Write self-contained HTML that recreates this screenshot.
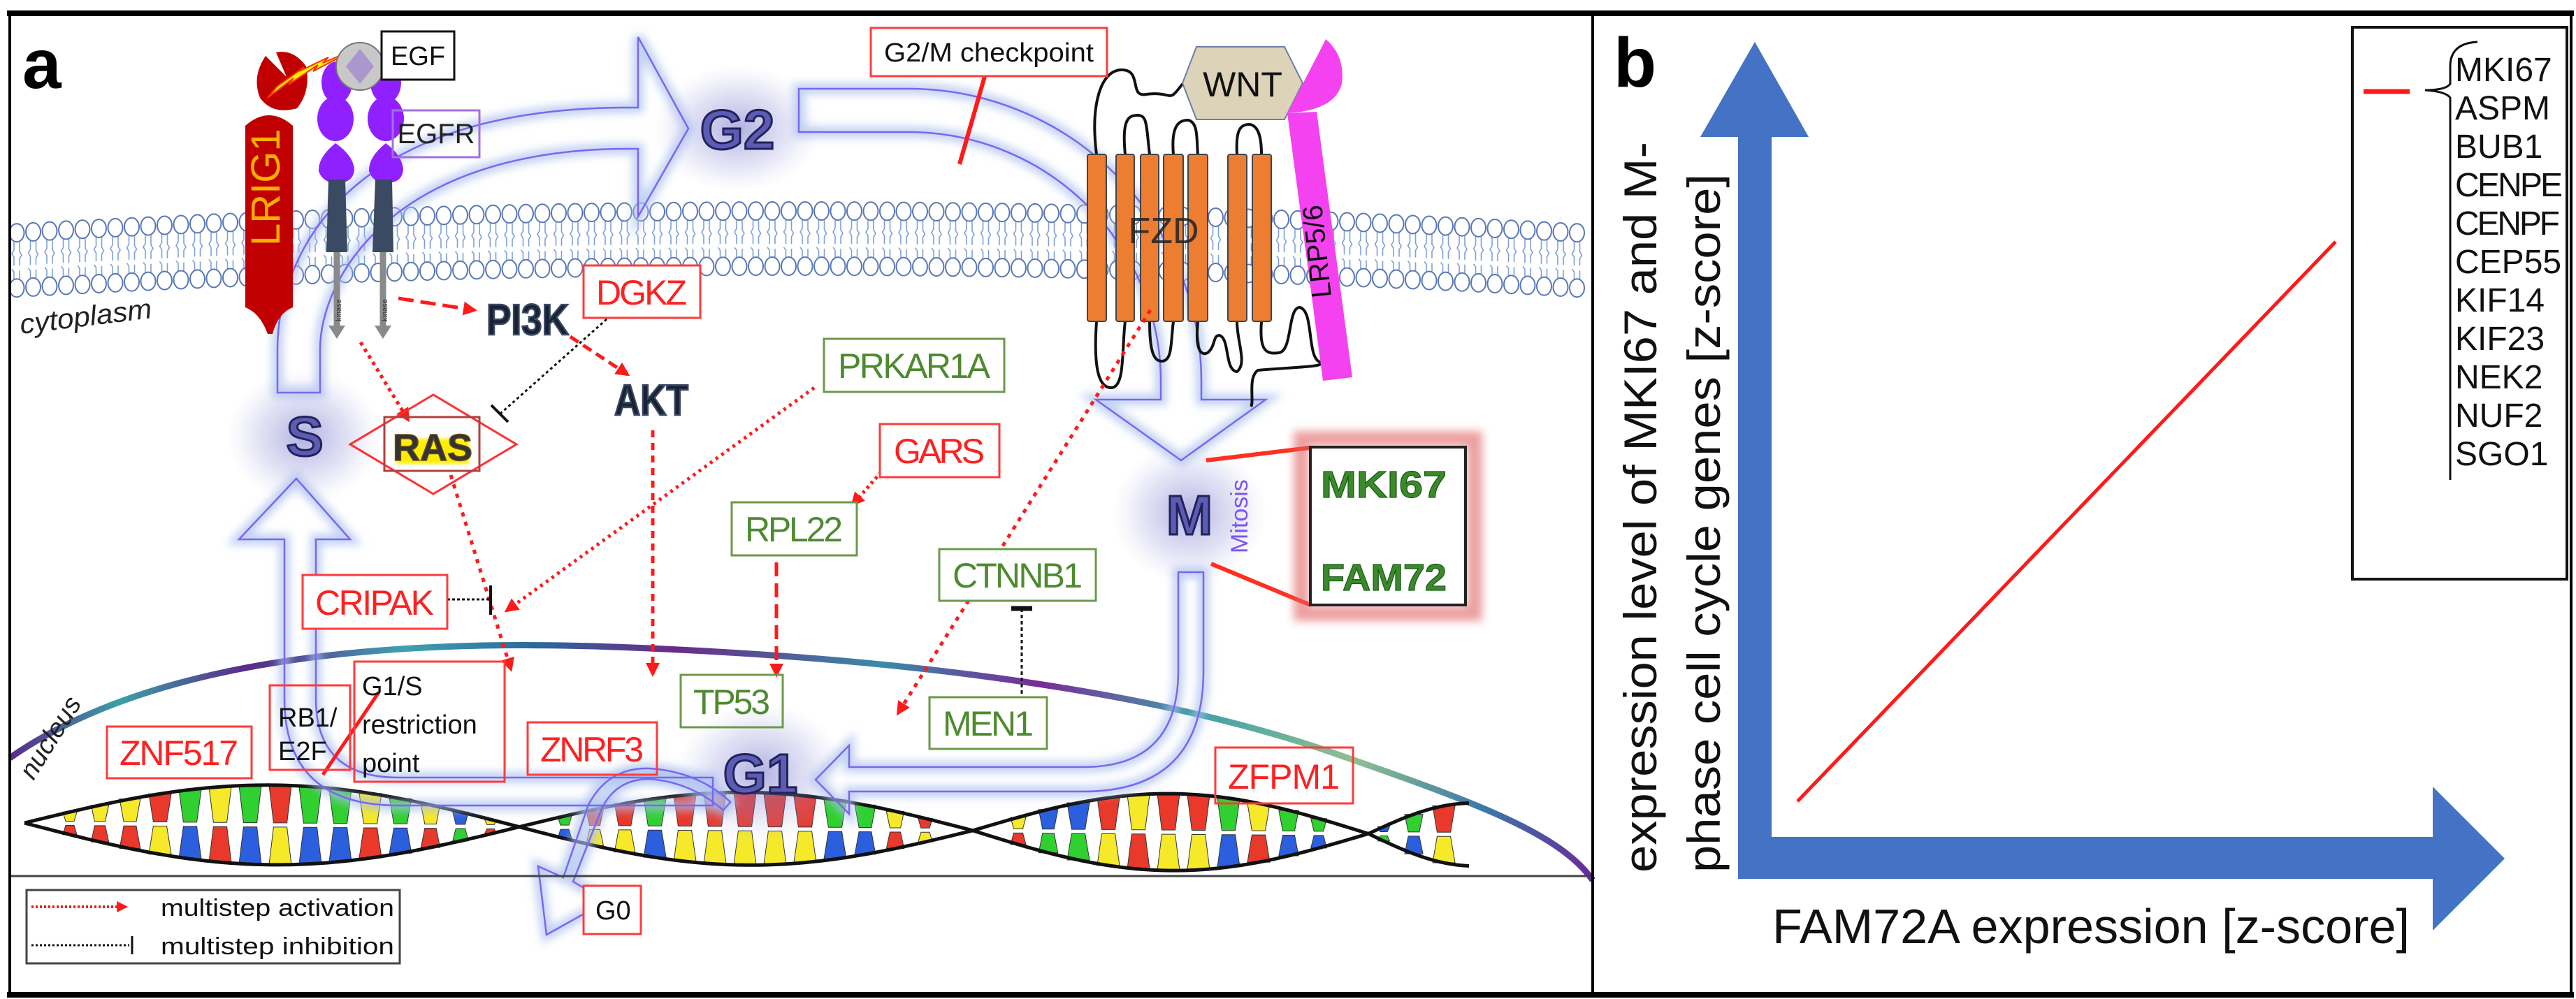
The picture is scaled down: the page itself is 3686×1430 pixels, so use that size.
<!DOCTYPE html>
<html><head><meta charset="utf-8">
<style>
html,body{margin:0;padding:0;background:#fff;}
svg{display:block;}
text{font-family:"Liberation Sans",sans-serif;}
</style></head>
<body>
<svg id="s" width="3686" height="1430" viewBox="0 0 3686 1430" xmlns="http://www.w3.org/2000/svg">
<defs>
<marker id="ar" viewBox="0 0 10 10" refX="8" refY="5" markerWidth="4" markerHeight="4" orient="auto"><path d="M0,0L10,5L0,10z" fill="#ff1a1a"/></marker>
<radialGradient id="glow"><stop offset="0" stop-color="#7070c8" stop-opacity="0.55"/><stop offset="0.6" stop-color="#9090d8" stop-opacity="0.25"/><stop offset="1" stop-color="#b0b0e8" stop-opacity="0"/></radialGradient>
<linearGradient id="nuc" x1="0" y1="0" x2="1" y2="0">
<stop offset="0" stop-color="#5a2a8a"/><stop offset="0.07" stop-color="#3aa0a8"/><stop offset="0.15" stop-color="#5a2a8a"/><stop offset="0.25" stop-color="#40a0b0"/><stop offset="0.33" stop-color="#2a6a9a"/><stop offset="0.42" stop-color="#6a2a8a"/><stop offset="0.55" stop-color="#3a8aa8"/><stop offset="0.65" stop-color="#7a2a9a"/><stop offset="0.75" stop-color="#40a0a8"/><stop offset="0.85" stop-color="#90c090"/><stop offset="0.93" stop-color="#3a7aa8"/><stop offset="1" stop-color="#6a2a9a"/></linearGradient>
<filter id="bl" x="-20%" y="-20%" width="140%" height="140%"><feGaussianBlur stdDeviation="6"/></filter>
<filter id="bl3"><feGaussianBlur stdDeviation="2"/></filter>
</defs>
<rect width="3686" height="1430" fill="#fff"/>

<g id="mem"></g>

<path d="M14,1085 C200,955 500,915 850,925 C1300,940 1650,990 1900,1075 C2100,1145 2230,1190 2279,1260" fill="none" stroke="url(#nuc)" stroke-width="9"/>

<g id="dna"></g>

<ellipse cx="435" cy="625" rx="110" ry="95" fill="url(#glow)"/>
<ellipse cx="1055" cy="184" rx="120" ry="90" fill="url(#glow)"/>
<ellipse cx="1702" cy="735" rx="110" ry="100" fill="url(#glow)"/>
<ellipse cx="1088" cy="1106" rx="120" ry="100" fill="url(#glow)"/>

<g fill="none" stroke="#a8bfee" stroke-width="16" stroke-opacity="0.7" filter="url(#bl)">
<path d="M397,562 L397,500 C397,380 480,154 900,154 L913,154 L913,53 L985,184 L913,310 L913,213 L900,213 C560,213 458,400 458,500 L458,562 Z"/>
<path d="M1143,127 L1300,127 A419,419 0 0 1 1719,546 L1719,572 L1811,572 L1690,659 L1568,572 L1661,572 L1661,546 A361,357 0 0 0 1300,189 L1143,189 Z"/>
<path d="M1686,819 L1722,819 L1722,960 Q1722,1133 1550,1133 L1215,1133 L1215,1165 L1167,1116 L1215,1067 L1215,1098 L1550,1098 Q1686,1098 1686,960 Z"/>
<path d="M1020,1113 L1020,1153 L570,1153 Q407,1153 407,1000 L407,772 L342,772 L424,685 L501,772 L452,772 L452,1000 Q452,1113 570,1113 Z"/>
<path d="M1035,1160 Q990,1120 930,1115 Q880,1115 860,1160 L820,1262 L868,1290 L782,1338 L770,1240 L806,1256 L842,1152 Q870,1098 930,1100 Q1000,1105 1045,1148 Z"/>
</g>
<g fill="none" stroke="#7b66f0" stroke-width="2.5">
<path d="M397,562 L397,500 C397,380 480,154 900,154 L913,154 L913,53 L985,184 L913,310 L913,213 L900,213 C560,213 458,400 458,500 L458,562 Z"/>
<path d="M1143,127 L1300,127 A419,419 0 0 1 1719,546 L1719,572 L1811,572 L1690,659 L1568,572 L1661,572 L1661,546 A361,357 0 0 0 1300,189 L1143,189 Z"/>
<path d="M1686,819 L1722,819 L1722,960 Q1722,1133 1550,1133 L1215,1133 L1215,1165 L1167,1116 L1215,1067 L1215,1098 L1550,1098 Q1686,1098 1686,960 Z"/>
<path d="M1020,1113 L1020,1153 L570,1153 Q407,1153 407,1000 L407,772 L342,772 L424,685 L501,772 L452,772 L452,1000 Q452,1113 570,1113 Z"/>
<path d="M1035,1160 Q990,1120 930,1115 Q880,1115 860,1160 L820,1262 L868,1290 L782,1338 L770,1240 L806,1256 L842,1152 Q870,1098 930,1100 Q1000,1105 1045,1148 Z"/>
</g>

<g font-weight="bold" fill="#5c5cb4" stroke="#22225a" stroke-width="3" text-anchor="middle">
<text x="436" y="652" font-size="80">S</text>
<text x="1055" y="213" font-size="80">G2</text>
<text x="1702" y="765" font-size="80">M</text>
<text x="1088" y="1135" font-size="80">G1</text>
</g>
<text transform="translate(1785,792) rotate(-90)" font-size="34" fill="#7b55f0">Mitosis</text>

<path d="M351,180 Q385,150 419,180 L419,440 Q398,448 390,478 L383,478 Q372,448 351,440 Z" fill="#c00000"/>
<path d="M380,80 Q360,110 372,140 Q390,165 425,155 Q445,130 438,95 Q420,70 395,75 L410,110 Z" fill="#c00000"/>
<text transform="translate(400,352) rotate(-90)" font-size="58" fill="#ffb000">LRIG1</text>
<polygon points="383,140 420,112 413,121 455,93 448,102 509,70 462,90 470,82 428,102 435,96 396,124" fill="#ffee00" stroke="#ff3000" stroke-width="2"/>

<g fill="#9020ff">
<ellipse cx="482" cy="118" rx="22" ry="30"/><ellipse cx="480" cy="170" rx="26" ry="32"/><path d="M480,205 Q455,225 456,245 Q462,262 482,262 Q506,262 507,242 Q505,222 480,205Z"/>
<ellipse cx="552" cy="118" rx="22" ry="30"/><ellipse cx="552" cy="170" rx="26" ry="32"/><path d="M552,205 Q527,225 528,245 Q534,262 552,262 Q576,262 577,242 Q575,222 552,205Z"/>
</g>
<circle cx="515" cy="95" r="34" fill="#c8c8c8" stroke="#777" stroke-width="2"/>
<polygon points="515,70 535,95 515,120 495,95" fill="#a080d0" opacity="0.7"/>
<polygon points="470,257 494,257 497,361 467,361" fill="#3a4a62"/>
<polygon points="537,257 561,257 563,361 533,361" fill="#3a4a62"/>
<g stroke="#8a8a8a" stroke-width="9"><line x1="482" y1="361" x2="482" y2="470"/><line x1="548" y1="361" x2="548" y2="470"/></g>
<polygon points="470,466 494,466 482,485" fill="#8a8a8a"/><polygon points="536,466 560,466 548,485" fill="#8a8a8a"/>
<text transform="translate(488,460) rotate(-90)" font-size="11" fill="#333">kinase</text>
<text transform="translate(554,460) rotate(-90)" font-size="11" fill="#333">kinase</text>

<g fill="none" stroke="#111" stroke-width="4">
<path d="M1569,221 C1560,150 1575,100 1605,100 C1635,100 1615,140 1640,135 C1680,130 1670,150 1692,120"/>
<path d="M1610,221 C1605,170 1615,165 1628,165 C1642,165 1640,180 1645,221"/>
<path d="M1679,221 C1675,175 1690,172 1700,172 C1715,175 1712,200 1714,221"/>
<path d="M1770,221 C1768,185 1775,178 1788,178 C1802,180 1805,200 1805,221"/>
<path d="M1569,460 C1565,520 1570,555 1590,555 C1610,555 1605,500 1610,460"/>
<path d="M1645,460 C1645,500 1650,517 1662,517 C1678,517 1675,490 1679,460"/>
<path d="M1714,460 C1710,500 1718,510 1728,505 C1740,495 1735,480 1745,480 C1760,485 1752,530 1770,532 C1785,520 1770,490 1770,460"/>
<path d="M1805,460 C1802,500 1810,508 1830,505 C1850,502 1842,440 1860,440 C1880,445 1870,510 1888,518 C1900,525 1860,525 1800,530 C1785,540 1795,575 1790,582"/>
</g>
<g fill="#ed7d31" stroke="#444" stroke-width="2">
<rect x="1556" y="221" width="27" height="239" rx="3"/><rect x="1597" y="221" width="26" height="239" rx="3"/><rect x="1632" y="221" width="26" height="239" rx="3"/><rect x="1665" y="221" width="28" height="239" rx="3"/><rect x="1700" y="221" width="28" height="239" rx="3"/><rect x="1757" y="221" width="27" height="239" rx="3"/><rect x="1792" y="221" width="27" height="239" rx="3"/>
</g>
<text x="1665" y="348" font-size="52" fill="#222" text-anchor="middle" opacity="0.85">FZD</text>
<polygon points="1712,67 1838,67 1864,119 1838,171 1712,171 1692,119" fill="#dcd3b8" stroke="#6a7fa8" stroke-width="2"/>
<text x="1778" y="138" font-size="50" text-anchor="middle" fill="#111">WNT</text>
<polygon points="1842,162 1884,160 1935,540 1893,545" fill="#f542f0"/>
<path d="M1842,162 Q1880,90 1897,56 Q1925,80 1920,120 Q1910,158 1842,162Z" fill="#f542f0"/>
<text transform="translate(1905,425) rotate(-96)" font-size="40" fill="#111">LRP5/6</text>

<g fill="none" stroke="#ff1a1a" stroke-width="5">
<line x1="570" y1="427" x2="679" y2="444" stroke-dasharray="22 10" marker-end="url(#ar)"/>
<line x1="516" y1="490" x2="584" y2="601" stroke-dasharray="5 6" marker-end="url(#ar)"/>
<line x1="816" y1="482" x2="898" y2="536" stroke-dasharray="14 8" marker-end="url(#ar)"/>
<line x1="934" y1="616" x2="934" y2="965" stroke-dasharray="10 8" marker-end="url(#ar)"/>
<line x1="645" y1="680" x2="731" y2="958" stroke-dasharray="6 8" marker-end="url(#ar)"/>
<line x1="1165" y1="555" x2="725" y2="874" stroke-dasharray="4 6" marker-end="url(#ar)"/>
<line x1="1267" y1="669" x2="1220" y2="722" stroke-dasharray="4 5" marker-end="url(#ar)"/>
<line x1="1111" y1="805" x2="1111" y2="966" stroke-dasharray="20 10" marker-end="url(#ar)"/>
<line x1="1646" y1="444" x2="1285" y2="1021" stroke-dasharray="6 8" marker-end="url(#ar)"/>
</g>
<g stroke="#ff1a1a" stroke-width="6">
<line x1="1412" y1="99" x2="1373" y2="235"/>
<line x1="542" y1="991" x2="462" y2="1109" stroke-width="5"/>
<line x1="1726" y1="659" x2="1874" y2="641" stroke="#ff3020"/>
<line x1="1733" y1="807" x2="1875" y2="866" stroke="#ff3020"/>
</g>
<g stroke="#111" fill="none">
<line x1="886" y1="441" x2="716" y2="592" stroke-width="3" stroke-dasharray="4 4"/>
<line x1="703" y1="580" x2="727" y2="604" stroke-width="4"/>
<line x1="640" y1="858" x2="700" y2="858" stroke-width="3" stroke-dasharray="4 3"/>
<line x1="702" y1="838" x2="702" y2="880" stroke-width="4"/>
<line x1="1462" y1="871" x2="1462" y2="998" stroke-width="3" stroke-dasharray="5 4"/>
<line x1="1447" y1="871" x2="1477" y2="871" stroke-width="7"/>
</g>

<polygon points="501,636 620,565 739,636 620,707" fill="none" stroke="#ff3030" stroke-width="3"/>
<rect x="550" y="597" width="136" height="77" fill="none" stroke="#b04040" stroke-width="3"/>
<rect x="567" y="628" width="104" height="36" fill="#ffee00" filter="url(#bl3)"/>
<text x="619" y="659" font-size="54" font-weight="bold" text-anchor="middle" fill="#333" stroke="#6a4a20" stroke-width="1.5">RAS</text>
<text x="696" y="479" font-size="62" font-weight="bold" fill="#1a2333" stroke="#3a4a66" stroke-width="2.5" textLength="118" lengthAdjust="spacingAndGlyphs">PI3K</text>
<text x="879" y="594" font-size="62" font-weight="bold" fill="#1a2333" stroke="#3a4a66" stroke-width="2.5" textLength="106" lengthAdjust="spacingAndGlyphs">AKT</text>

<g fill="#fff" stroke-width="3">
<rect x="546" y="45" width="104" height="69" stroke="#111"/>
<rect x="562" y="158" width="124" height="67" stroke="#a070e0" fill="none"/>
<rect x="1246" y="40" width="338" height="69" stroke="#ff3b3b"/>
<rect x="835" y="380" width="167" height="75" stroke="#ff3b3b"/>
<rect x="1179" y="485" width="258" height="76" stroke="#6a9a4a"/>
<rect x="1259" y="607" width="171" height="76" stroke="#ff3b3b"/>
<rect x="1047" y="719" width="179" height="76" stroke="#6a9a4a"/>
<rect x="1344" y="786" width="224" height="74" stroke="#6a9a4a"/>
<rect x="433" y="823" width="207" height="77" stroke="#ff3b3b"/>
<rect x="974" y="966" width="146" height="75" stroke="#6a9a4a" fill="none"/>
<rect x="1330" y="998" width="168" height="74" stroke="#6a9a4a" fill="none"/>
<rect x="153" y="1040" width="207" height="74" stroke="#ff3b3b"/>
<rect x="386" y="981" width="115" height="121" stroke="#ff3b3b" fill="none"/>
<rect x="507" y="947" width="215" height="172" stroke="#ff3b3b" fill="none"/>
<rect x="755" y="1034" width="185" height="75" stroke="#ff3b3b" fill="none"/>
<rect x="1739" y="1070" width="197" height="80" stroke="#ff3b3b" fill="none"/>
<rect x="835" y="1268" width="82" height="69" stroke="#ff3b3b"/>
<rect x="38" y="1274" width="534" height="105" stroke="#444"/>
</g>
<text x="598" y="93" font-size="38" text-anchor="middle" fill="#111">EGF</text>
<text x="624" y="205" font-size="40" text-anchor="middle" fill="#222">EGFR</text>
<text x="1265" y="88" font-size="38" fill="#111" textLength="300" lengthAdjust="spacingAndGlyphs">G2/M checkpoint</text>
<g font-size="50" text-anchor="middle" lengthAdjust="spacingAndGlyphs">
<text x="918" y="436" fill="#ff2020" textLength="130">DGKZ</text>
<text x="1308" y="541" fill="#4e8a30" textLength="218">PRKAR1A</text>
<text x="1344" y="663" fill="#ff2020" textLength="130">GARS</text>
<text x="1136" y="775" fill="#4e8a30" textLength="140">RPL22</text>
<text x="1456" y="841" fill="#4e8a30" textLength="186">CTNNB1</text>
<text x="536" y="880" fill="#ff2020" textLength="170">CRIPAK</text>
<text x="1047" y="1022" fill="#4e8a30" textLength="110">TP53</text>
<text x="1414" y="1053" fill="#4e8a30" textLength="130">MEN1</text>
<text x="256" y="1095" fill="#ff2020" textLength="170">ZNF517</text>
<text x="847" y="1090" fill="#ff2020" textLength="148">ZNRF3</text>
<text x="1837" y="1129" fill="#ff2020" textLength="160">ZFPM1</text>
</g>
<g font-size="38" fill="#111">
<text x="398" y="1040">RB1/</text>
<text x="398" y="1088">E2F</text>
<text x="518" y="995">G1/S</text>
<text x="518" y="1050">restriction</text>
<text x="518" y="1105">point</text>
<text x="852" y="1316">G0</text>
</g>

<rect x="1862" y="628" width="248" height="250" fill="none" stroke="#e06060" stroke-width="22" opacity="0.6" filter="url(#bl)"/>
<rect x="1875" y="640" width="222" height="226" fill="#fff" stroke="#222" stroke-width="4"/>
<g font-size="54" font-weight="bold" fill="#3a8a2a" stroke="#1a5a1a" stroke-width="1.2">
<text x="1890" y="712" textLength="180" lengthAdjust="spacingAndGlyphs">MKI67</text>
<text x="1890" y="845" textLength="180" lengthAdjust="spacingAndGlyphs">FAM72</text>
</g>

<text x="32" y="126" font-size="100" font-weight="bold" fill="#000">a</text>
<text transform="translate(30,478) rotate(-7)" font-size="40" font-style="italic" fill="#222" textLength="190" lengthAdjust="spacingAndGlyphs">cytoplasm</text>
<text transform="translate(48,1118) rotate(-58)" font-size="38" font-style="italic" fill="#222">nucleus</text>

<line x1="14" y1="1254" x2="2279" y2="1254" stroke="#444" stroke-width="3"/>
<line x1="45" y1="1298" x2="180" y2="1298" stroke="#ff1a1a" stroke-width="4" stroke-dasharray="3 3" marker-end="url(#ar)"/>
<line x1="45" y1="1353" x2="185" y2="1353" stroke="#111" stroke-width="3" stroke-dasharray="3 3"/>
<line x1="189" y1="1340" x2="189" y2="1366" stroke="#111" stroke-width="3"/>
<text x="230" y="1311" font-size="34" fill="#111" textLength="334" lengthAdjust="spacingAndGlyphs">multistep activation</text>
<text x="230" y="1366" font-size="34" fill="#111" textLength="334" lengthAdjust="spacingAndGlyphs">multistep inhibition</text>

<text x="2309" y="124" font-size="100" font-weight="bold" fill="#000">b</text>
<g fill="#4472c4">
<rect x="2487" y="190" width="48" height="1068"/>
<polygon points="2511,60 2588,196 2433,196"/>
<rect x="2487" y="1198" width="1000" height="60"/>
<polygon points="3481,1126 3584,1229 3481,1332"/>
</g>
<line x1="2572" y1="1147" x2="3342" y2="346" stroke="#ff1a1a" stroke-width="5"/>
<text transform="translate(2370,1249) rotate(-90)" font-size="66" fill="#111" textLength="1046" lengthAdjust="spacingAndGlyphs">expression level of MKI67 and M-</text>
<text transform="translate(2461,1249) rotate(-90)" font-size="66" fill="#111" textLength="1000" lengthAdjust="spacingAndGlyphs">phase cell cycle genes [z-score]</text>
<text x="2536" y="1350" font-size="70" fill="#111" textLength="912" lengthAdjust="spacingAndGlyphs">FAM72A expression [z-score]</text>
<rect x="3366" y="39" width="307" height="790" fill="none" stroke="#111" stroke-width="4"/>
<line x1="3382" y1="131" x2="3448" y2="131" stroke="#ff1a1a" stroke-width="7"/>
<path d="M3545,60 Q3506,62 3506,95 L3506,120 Q3500,129 3470,129 Q3500,131 3506,140 L3506,687" fill="none" stroke="#111" stroke-width="3"/>
<g font-size="48" fill="#111" lengthAdjust="spacingAndGlyphs">
<text x="3513" y="116">MKI67</text><text x="3513" y="171">ASPM</text><text x="3513" y="226">BUB1</text><text x="3513" y="281" textLength="154">CENPE</text><text x="3513" y="336" textLength="150">CENPF</text><text x="3513" y="391">CEP55</text><text x="3513" y="446">KIF14</text><text x="3513" y="501">KIF23</text><text x="3513" y="556">NEK2</text><text x="3513" y="611">NUF2</text><text x="3513" y="666">SGO1</text>
</g>

<rect x="14" y="19" width="3665" height="1405" fill="none" stroke="#000" stroke-width="4"/>
<line x1="10" y1="19" x2="3683" y2="19" stroke="#000" stroke-width="8"/>
<line x1="10" y1="1424" x2="3683" y2="1424" stroke="#000" stroke-width="8"/>
<line x1="2279" y1="19" x2="2279" y2="1424" stroke="#000" stroke-width="4"/>
</svg>
<script>
(function(){
var NS="http://www.w3.org/2000/svg";
function el(n,a,p){var e=document.createElementNS(NS,n);for(var k in a)e.setAttribute(k,a[k]);p.appendChild(e);return e;}
var mem=document.getElementById("mem");
for(var x=24;x<2276;x+=23.5){
 var t=288+32*Math.pow((x-1140)/1130,2);
 el("path",{d:"M"+(x-4)+","+(t+27)+" l0,12 l-3,5 l3,5 l0,12 M"+(x+4)+","+(t+27)+" l0,14 l3,5 l-3,5 l0,10",fill:"none",stroke:"#7fa0d8","stroke-width":1.6},mem);
 el("path",{d:"M"+(x-4)+","+(t+80)+" l0,-10 l-3,-4 M"+(x+4)+","+(t+80)+" l0,-12",fill:"none",stroke:"#7fa0d8","stroke-width":1.6},mem);
 el("ellipse",{cx:x,cy:t+14,rx:10.5,ry:13,fill:"#fff",stroke:"#5878b8","stroke-width":2},mem);
 el("ellipse",{cx:x,cy:t+93,rx:10.5,ry:13,fill:"#fff",stroke:"#5878b8","stroke-width":2},mem);
}
var dna=document.getElementById("dna");
var X=[35,743,1392,1958],A=[57,52,55,45],seed=7;
function rnd(){seed=(seed*9301+49297)%233280;return seed/233280;}
var cols=["#e8392a","#f5e92a","#2b5fde","#2fd02f"],pair={0:1,1:0,2:3,3:2};
var up="",dn="";
for(var i=0;i<4;i++){
 var x0=X[i],w=(i<3?X[i+1]-x0:300),xe=(i<3?X[i+1]:2105),a=A[i];
 for(var x=x0+22;x<xe-12;x+=43){
  var s=Math.sin(Math.PI*(x-x0)/w),c=1178+(x-35)*0.008,h=a*s;
  if(h<10)continue;
  var ci=Math.floor(rnd()*4),cj=pair[ci];if(rnd()<0.5){var tmp=ci;ci=cj;cj=tmp;}
  var bw=Math.min(16,6+h/4),nw=bw*0.6;
  el("polygon",{points:(x-bw)+","+(c-h)+" "+(x+bw)+","+(c-h)+" "+(x+nw)+","+(c-3)+" "+(x-nw)+","+(c-3),fill:cols[ci],stroke:"#333","stroke-width":1},dna);
  el("polygon",{points:(x-nw)+","+(c+3)+" "+(x+nw)+","+(c+3)+" "+(x+bw)+","+(c+h)+" "+(x-bw)+","+(c+h),fill:cols[cj],stroke:"#333","stroke-width":1},dna);
 }
 for(var x=x0;x<=xe;x+=6){
  var s=Math.sin(Math.PI*(x-x0)/w),c=1178+(x-35)*0.008;
  up+=(up?" L":"M")+x+","+(c-a*s);dn+=(dn?" L":"M")+x+","+(c+a*s);
 }
}
el("path",{d:up,fill:"none",stroke:"#111","stroke-width":5},dna);
el("path",{d:dn,fill:"none",stroke:"#111","stroke-width":5},dna);
})();
</script>
</body></html>
